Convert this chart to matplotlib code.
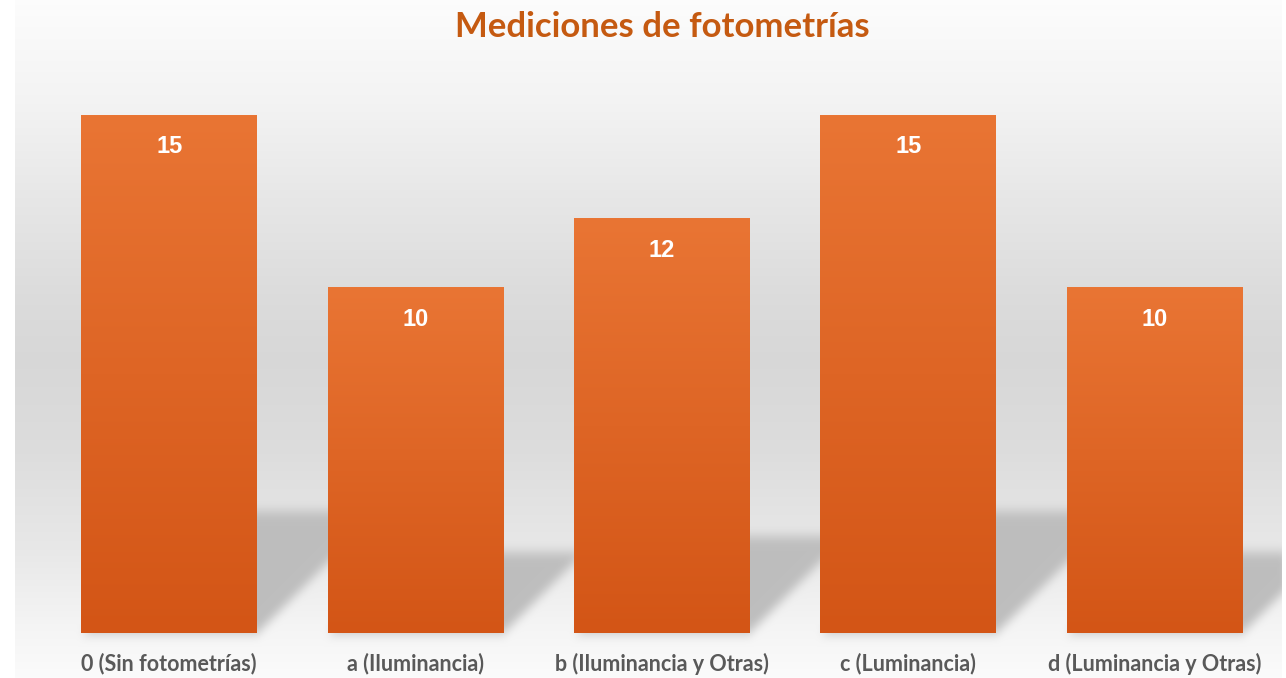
import numpy as np
import matplotlib
matplotlib.use("Agg")
import matplotlib.pyplot as plt
from matplotlib.colors import LinearSegmentedColormap, to_rgb
from matplotlib.path import Path

# ---------------------------------------------------------------------------
# Data
# ---------------------------------------------------------------------------
categories = [
    "0 (Sin fotometrías)",
    "a (Iluminancia)",
    "b (Iluminancia y Otras)",
    "c (Luminancia)",
    "d (Luminancia y Otras)",
]
values = [15, 10, 12, 15, 10]
title = "Mediciones de fotometrías"

# ---------------------------------------------------------------------------
# Style
# ---------------------------------------------------------------------------
W, H, DPI = 1286, 678, 100
BAR_TOP = "#E97534"
BAR_BOTTOM = "#D35516"
TITLE_COLOR = "#C55A11"
LABEL_COLOR = "#595959"
SHADOW = "#BEBEBE"
PANEL_X = (15, 1282)          # grey panel behind the plot, pixels
SHADOW_RATIO = 0.235          # shadow depth relative to bar height


def box_blur(a, r, axis):
    k = np.ones(2 * r + 1) / (2 * r + 1)
    return np.apply_along_axis(lambda m: np.convolve(m, k, mode="same"), axis, a)


fig = plt.figure(figsize=(W / DPI, H / DPI), dpi=DPI)
fig.patch.set_facecolor("white")

bg = fig.add_axes([0, 0, 1, 1], zorder=0)
bg.axis("off")

ax = fig.add_axes([46 / W, 45 / H, 1232 / W, 518 / H], zorder=1)
ax.patch.set_alpha(0)

x = np.arange(len(values))
bars = ax.bar(x, values, width=0.714, color="none", edgecolor="none")
ax.set_xlim(-0.5, len(values) - 0.5)
ax.set_ylim(0, max(values))

# gradient bars
cmap = LinearSegmentedColormap.from_list("bar", [BAR_BOTTOM, BAR_TOP])
grad = np.linspace(0, 1, 256).reshape(-1, 1)
for b in bars:
    ax.imshow(grad, cmap=cmap, origin="lower", aspect="auto", zorder=2,
              extent=(b.get_x(), b.get_x() + b.get_width(), 0, b.get_height()))
ax.set_xlim(-0.5, len(values) - 0.5)
ax.set_ylim(0, max(values))

# background panel with vertical grey gradient
rows = np.arange(H) + 0.5
stops_y = [0, 100, 200, 300, 360, 450, 550, 620, 678]
stops_v = [0.99, 0.955, 0.905, 0.86, 0.845, 0.865, 0.91, 0.955, 0.985]
col = np.interp(rows, stops_y, stops_v)
img = np.ones((H, W, 3))
img[:, PANEL_X[0]:PANEL_X[1], :] = col[:, None, None]

# cast shadows behind the bars
yy, xx = np.mgrid[0:H, 0:W] + 0.5
pts = np.column_stack([xx.ravel(), yy.ravel()])
mask = np.zeros(H * W)
for b, v in zip(bars, values):
    (x0, y0), (x1, y1) = ax.transData.transform(
        [(b.get_x(), 0), (b.get_x() + b.get_width(), v)])
    r0 = H - y0
    d = (y1 - y0) * SHADOW_RATIO
    poly = [(x0, r0), (x1, r0), (x1 + d, r0 - d), (x0 + d, r0 - d)]
    mask = np.maximum(mask, Path(poly).contains_points(pts))
mask = mask.reshape(H, W)
for _ in range(3):
    mask = box_blur(mask, 5, 0)
    mask = box_blur(mask, 3, 1)
mask[:, :PANEL_X[0]] = 0
mask[:, PANEL_X[1]:] = 0
shadow = np.array(to_rgb(SHADOW))
img = img * (1 - mask[..., None]) + shadow * mask[..., None]

bg.imshow(img, extent=(0, W, H, 0), aspect="auto", interpolation="bilinear")
bg.set_xlim(0, W)
bg.set_ylim(H, 0)

# value labels
for b, v in zip(bars, values):
    ax.annotate(str(v), (b.get_x() + b.get_width() / 2, v), xytext=(0, -23),
                textcoords="offset points", ha="center", va="center",
                color="white", fontsize=17, fontweight="bold",
                family="Liberation Sans", zorder=3)

ax.set_xticks(x, categories)
ax.set_yticks([])
ax.tick_params(axis="x", length=0, pad=14, labelsize=15.5, labelcolor=LABEL_COLOR)
for lbl in ax.get_xticklabels():
    lbl.set_fontweight("bold")
    lbl.set_family("Lato")
for s in ax.spines.values():
    s.set_visible(False)

fig.text(662 / W, 1 - 27 / H, title, ha="center", va="center",
         fontsize=25, fontweight="bold", color=TITLE_COLOR, family="Lato")

fig.savefig("out.png", dpi=DPI)
